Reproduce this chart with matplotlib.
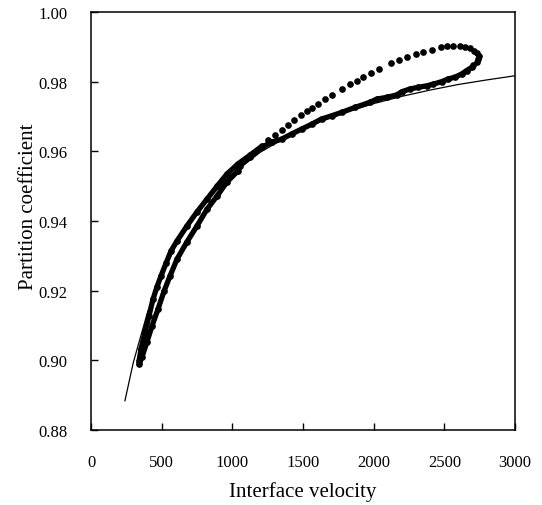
import numpy as np
import matplotlib.pyplot as plt

# thin model curve
line_v = [240, 300, 400, 500, 600, 700, 800, 1000, 1200, 1400, 1600,
          1800, 2000, 2200, 2400, 2600, 2800, 3000]
line_k = [0.8884, 0.8995, 0.9138, 0.9246, 0.9330, 0.9397, 0.9451, 0.9536,
          0.9598, 0.9645, 0.9682, 0.9712, 0.9737, 0.9758, 0.9776, 0.9792,
          0.9805, 0.9817]

# dense rising strand (low velocity, upper side)
rise_v = [340, 354, 382, 410, 439, 467, 495, 531, 566, 609, 679, 750,
          821, 892, 962, 1040, 1125, 1210]
rise_k = [0.8998, 0.9033, 0.9081, 0.9127, 0.9176, 0.9211, 0.9242, 0.9279,
          0.9314, 0.9343, 0.9386, 0.9426, 0.9463, 0.9500, 0.9535, 0.9564,
          0.9589, 0.9615]

# sparse fast branch up to the turnaround
fast_v = [1252, 1302, 1349, 1396, 1439, 1484, 1526, 1562, 1608, 1656,
          1707, 1774, 1833, 1880, 1927, 1979, 2040, 2123, 2179, 2236, 2297,
          2351, 2411, 2474, 2517, 2564, 2611, 2646, 2682, 2712, 2733, 2743,
          2740, 2729, 2705]
fast_k = [0.9633, 0.9648, 0.9662, 0.9676, 0.9689, 0.9703, 0.9715, 0.9725,
          0.9737, 0.9749, 0.9762, 0.9779, 0.9793, 0.9803, 0.9813, 0.9824,
          0.9836, 0.9854, 0.9863, 0.9870, 0.9879, 0.9884, 0.9891, 0.9899,
          0.9901, 0.9903, 0.9903, 0.9900, 0.9896, 0.9889, 0.9881, 0.9873,
          0.9864, 0.9857, 0.9849]

# dense return branch back down to the start
back_v = [2694, 2658, 2623, 2576, 2528, 2481, 2422, 2375, 2316, 2257, 2198,
          2163, 2092, 2022, 1974, 1868, 1774, 1703, 1632, 1562, 1491, 1420,
          1349, 1279, 1208, 1125, 1054, 1040, 962, 892, 821, 750, 679, 609,
          559, 517, 474, 432, 396, 361, 340]
back_k = [0.9841, 0.9832, 0.9822, 0.9813, 0.9808, 0.9800, 0.9793, 0.9788,
          0.9784, 0.9779, 0.9771, 0.9762, 0.9755, 0.9750, 0.9741, 0.9726,
          0.9712, 0.9702, 0.9693, 0.9678, 0.9664, 0.9650, 0.9635, 0.9626,
          0.9612, 0.9583, 0.9559, 0.9544, 0.9512, 0.9472, 0.9434, 0.9386,
          0.9340, 0.9291, 0.9242, 0.9199, 0.9147, 0.9099, 0.9053, 0.9010,
          0.8989]

plt.rcParams['font.family'] = ['Liberation Serif', 'DejaVu Serif']

fig = plt.figure(figsize=(5.42, 5.06), dpi=100)
ax = fig.add_axes([0.1679, 0.1482, 0.7823, 0.8261])

ax.plot(line_v, line_k, color='black', lw=0.9)
ax.plot(rise_v, rise_k, color='black', lw=3.8, marker='o', ms=3.8,
        solid_capstyle='round')
ax.plot(back_v, back_k, color='black', lw=3.8, marker='o', ms=3.8,
        solid_capstyle='round')
ax.plot(fast_v, fast_k, 'o', color='black', ms=3.8)

ax.set_xlim(0, 3000)
ax.set_ylim(0.88, 1.00)
ax.set_xticks(np.arange(0, 3001, 500))
ax.set_yticks(np.arange(0.88, 1.001, 0.02))
ax.set_yticklabels(['0.88', '0.90', '0.92', '0.94', '0.96', '0.98', '1.00'])

ax.tick_params(direction='in', length=5, width=1.0, labelsize=12)
ax.tick_params(axis='x', pad=17)
ax.tick_params(axis='y', pad=17)
for s in ax.spines.values():
    s.set_linewidth(1.1)

ax.set_xlabel('Interface velocity', fontsize=15)
ax.set_ylabel('Partition coefficient', fontsize=15)
ax.xaxis.set_label_coords(0.5, -0.122)
ax.yaxis.set_label_coords(-0.125, 0.536)

fig.savefig('out.png', dpi=100)
